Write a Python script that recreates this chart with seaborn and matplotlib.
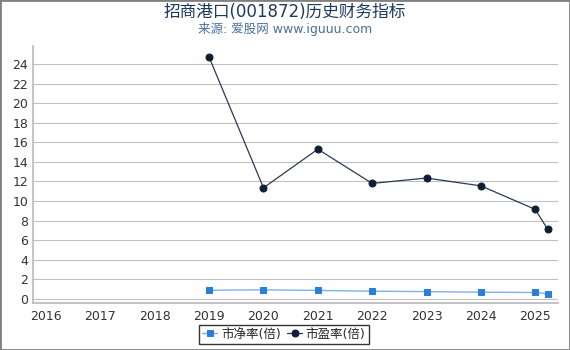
import matplotlib
matplotlib.use('Agg')
import matplotlib.pyplot as plt
import seaborn as sns
import pandas as pd

# 数据
pb_x = [2019, 2020, 2021, 2022, 2023, 2024, 2025, 2025.23]
pb = [0.88, 0.92, 0.86, 0.78, 0.74, 0.68, 0.65, 0.52]
pe_x = [2019, 2020, 2021, 2022, 2023, 2024, 2025, 2025.23]
pe = [24.7, 11.35, 15.3, 11.8, 12.35, 11.55, 9.15, 7.1]
year_ticks = [2016, 2017, 2018, 2019, 2020, 2021, 2022, 2023, 2024, 2025]
y_ticks = list(range(0, 25, 2))

df_pb = pd.DataFrame({'x': pb_x, 'y': pb})
df_pe = pd.DataFrame({'x': pe_x, 'y': pe})

sns.set_theme(style='white')
plt.rcParams['font.family'] = ['DejaVu Sans', 'Noto Sans CJK SC']

fig = plt.figure(figsize=(5.7, 3.5), dpi=100)
ax = fig.add_axes([0.058, 0.135, 0.921, 0.735])

sns.lineplot(data=df_pb, x='x', y='y', ax=ax, color='#7fb0ea', marker='s',
             markersize=5, markerfacecolor='#2b7fd8', markeredgecolor='#2b7fd8',
             linewidth=1, label='市净率(倍)')
sns.lineplot(data=df_pe, x='x', y='y', ax=ax, color='#2a3a55', marker='o',
             markersize=5, markerfacecolor='#0f1e33', markeredgecolor='#0f1e33',
             linewidth=0.9, label='市盈率(倍)')

ax.set_xlim(2015.76, 2025.42)
ax.set_ylim(-0.4, 25.9)
ax.set_xticks(year_ticks)
ax.set_yticks(y_ticks)
ax.set_xlabel('')
ax.set_ylabel('')
ax.grid(axis='y', color='#c0c0c0', linewidth=0.8)
for s in ['top', 'right']:
    ax.spines[s].set_visible(False)
ax.spines['left'].set_color('#bbbbbb')
ax.spines['bottom'].set_color('#bbbbbb')
ax.tick_params(axis='both', labelsize=9, colors='#333333', length=3, width=0.6)
ax.tick_params(axis='x', color='#bbbbbb', pad=2)
ax.tick_params(axis='y', length=0)

leg = ax.legend(loc='upper center', bbox_to_anchor=(0.478, -0.085), ncol=2,
                frameon=True, fontsize=9, handlelength=1.2, handletextpad=0.3,
                columnspacing=0.5, borderpad=0.25, borderaxespad=0,
                fancybox=False)
leg.get_frame().set_edgecolor('black')
leg.get_frame().set_linewidth(1)

fig.text(0.5, 0.965, '招商港口(001872)历史财务指标', ha='center', va='center',
         fontsize=12, color='#1f3a5f')
fig.text(0.5, 0.918, '来源: 爱股网 www.iguuu.com', ha='center', va='center',
         fontsize=9, color='#4a6f9a')

border = plt.Rectangle((0, 0), 1, 1, transform=fig.transFigure, fill=False,
                       edgecolor='#808080', linewidth=2)
fig.patches.append(border)

fig.savefig('out.png', dpi=100)
